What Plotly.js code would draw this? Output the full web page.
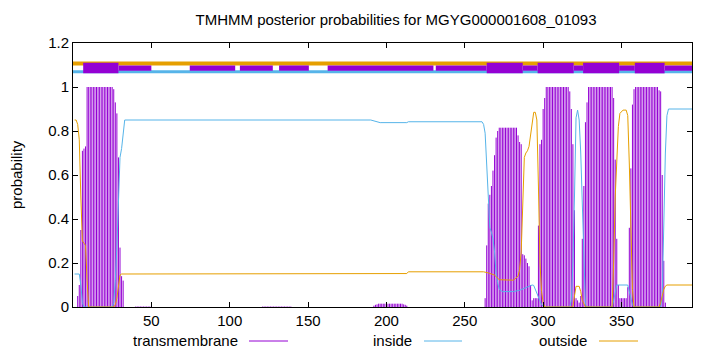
<!DOCTYPE html>
<html>
<head>
<meta charset="utf-8">
<script src="https://cdn.plot.ly/plotly-3.0.1.min.js"></script>
<style>html,body{margin:0;padding:0;background:#fff}#chart{width:720px;height:352px}</style>
</head>
<body>
<div id="chart"></div>
<script>
// ---- data ----
const chartTitle = 'TMHMM posterior probabilities for MGYG000001608_01093';
const seriesNames = ['transmembrane', 'inside', 'outside'];
const xTickVals = [50, 100, 150, 200, 250, 300, 350];
const yTickVals = [0, 0.2, 0.4, 0.6, 0.8, 1, 1.2];
const yTickText = ['0', '0.2', '0.4', '0.6', '0.8', '1', '1.2'];

// transmembrane probability per residue (residue 1..395)
const tmProb = [
  0, 0, 0.05, 0.1, 0.35, 0.71, 0.72, 0.73, 1, 1,
  1, 1, 1, 1, 1, 1, 1, 1, 1, 1,
  1, 1, 1, 1, 1, 0.99, 0.93, 0.88, 0.68, 0.27,
  0.14, 0.12, 0, 0, 0, 0, 0, 0, 0, 0.002,
  0.002, 0.002, 0.002, 0.002, 0.002, 0.002, 0.002, 0.002, 0.002, 0.002,
  0, 0, 0, 0, 0, 0, 0, 0, 0, 0,
  0, 0, 0, 0, 0, 0, 0, 0, 0, 0,
  0, 0, 0, 0, 0, 0, 0, 0, 0, 0,
  0, 0, 0, 0, 0, 0, 0, 0, 0, 0,
  0, 0, 0, 0, 0, 0, 0, 0, 0, 0,
  0, 0, 0, 0, 0, 0, 0, 0, 0, 0,
  0, 0, 0, 0, 0, 0, 0, 0, 0, 0,
  0.002, 0.002, 0.002, 0.002, 0.002, 0.002, 0.002, 0.002, 0.002, 0.002,
  0.002, 0.002, 0.002, 0.002, 0.002, 0.002, 0.002, 0.002, 0.002, 0,
  0, 0, 0, 0, 0, 0, 0, 0, 0, 0,
  0, 0, 0, 0, 0, 0, 0, 0, 0, 0,
  0, 0, 0, 0, 0, 0, 0, 0, 0, 0,
  0, 0, 0, 0, 0, 0, 0, 0, 0, 0,
  0, 0, 0, 0, 0, 0, 0, 0, 0, 0,
  0, 0.006, 0.01, 0.012, 0.015, 0.015, 0.015, 0.015, 0.015, 0.015,
  0.015, 0.015, 0.015, 0.015, 0.015, 0.015, 0.015, 0.015, 0.015, 0.015,
  0.012, 0.01, 0.006, 0, 0, 0, 0, 0, 0, 0,
  0, 0, 0, 0, 0, 0, 0, 0, 0, 0,
  0, 0, 0, 0, 0, 0, 0, 0, 0, 0,
  0, 0, 0, 0, 0, 0, 0, 0, 0, 0,
  0, 0, 0, 0, 0, 0, 0, 0, 0, 0,
  0, 0, 0.04, 0.28, 0.47, 0.51, 0.55, 0.62, 0.69, 0.77,
  0.8, 0.815, 0.815, 0.815, 0.815, 0.815, 0.815, 0.815, 0.815, 0.815,
  0.815, 0.815, 0.815, 0.78, 0.75, 0.74, 0.24, 0.235, 0.22, 0.2,
  0.185, 0.1, 0.03, 0.04, 0.04, 0.04, 0.37, 0.74, 0.76, 0.9,
  0.95, 1, 1, 1, 1, 1, 1, 1, 1, 1,
  1, 1, 1, 1, 1, 1, 0.98, 0.9, 0.74, 0.44,
  0.04, 0.03, 0.02, 0.05, 0.31, 0.55, 0.84, 0.93, 1, 1,
  1, 1, 1, 1, 1, 1, 1, 1, 1, 1,
  1, 1, 1, 1, 0.95, 0.67, 0.31, 0.1, 0.04, 0.04,
  0.04, 0.04, 0.04, 0.09, 0.36, 0.63, 0.92, 0.99, 1, 1,
  1, 1, 1, 1, 1, 1, 1, 1, 1, 1,
  1, 1, 1, 0.985, 0.98, 0.6, 0.21, 0.02, 0, 0,
  0, 0, 0, 0, 0, 0, 0, 0, 0, 0,
  0, 0, 0, 0, 0
];

// inside probability (residue, value) where the curve changes
const inPos  = [1, 4, 5, 6, 7, 25, 26, 27, 28, 29, 30, 31, 32, 33, 190, 192, 196, 213, 214, 261,
  262, 263, 264, 265, 266, 267, 268, 269, 270, 271, 272, 274, 281, 285, 290, 293, 294, 295, 297, 299,
  301, 317, 318, 319, 320, 321, 322, 323, 324, 325, 326, 327, 328, 344, 345, 346, 347, 354, 355, 356,
  357, 358, 375, 376, 377, 378, 379, 380, 395];
const inProb = [0.15, 0.15, 0.1, 0.02, 0, 0, 0.02, 0.12, 0.27, 0.5, 0.68, 0.72, 0.8, 0.85, 0.85, 0.845, 0.838, 0.838, 0.842, 0.842,
  0.83, 0.79, 0.65, 0.45, 0.36, 0.34, 0.31, 0.25, 0.15, 0.11, 0.08, 0.07, 0.07, 0.076, 0.09, 0.1, 0.098, 0.08, 0.04, 0.01,
  0, 0, 0.03, 0.2, 0.5, 0.86, 0.895, 0.85, 0.7, 0.45, 0.15, 0.01, 0, 0, 0.03, 0.07, 0.1, 0.1, 0.07, 0.03,
  0.01, 0, 0, 0.05, 0.4, 0.7, 0.87, 0.9, 0.9];

// outside probability (residue, value) where the curve changes
const outPos  = [1, 2, 3, 4, 5, 6, 7, 8, 9, 10, 26, 27, 28, 29, 30, 31, 213, 214, 262, 265,
  269, 272, 281, 284, 285, 286, 287, 288, 289, 290, 291, 292, 293, 294, 295, 296, 297, 298, 299, 300,
  301, 319, 320, 321, 323, 324, 325, 327, 344, 345, 346, 347, 348, 349, 351, 353, 354, 355, 356, 357,
  358, 374, 375, 376, 377, 378, 379, 395];
const outProb = [0.85, 0.85, 0.83, 0.76, 0.5, 0.3, 0.29, 0.28, 0.12, 0, 0, 0.01, 0.04, 0.1, 0.145, 0.15, 0.152, 0.16, 0.16, 0.155,
  0.145, 0.124, 0.122, 0.14, 0.17, 0.25, 0.5, 0.68, 0.7, 0.71, 0.73, 0.78, 0.85, 0.885, 0.885, 0.85, 0.55, 0.2, 0.07, 0.02,
  0, 0, 0.05, 0.094, 0.094, 0.07, 0.03, 0, 0, 0.2, 0.5, 0.7, 0.82, 0.88, 0.895, 0.895, 0.87, 0.65, 0.3, 0.08,
  0, 0, 0.02, 0.05, 0.08, 0.095, 0.1, 0.1];

// predicted topology band at the top (residue ranges)
const topOutsideSegs = [[0, 411]];
const topInsideSegs  = [[0, 411]];
const topHelixSegs   = [[6.5, 29], [264, 287], [296.5, 319.5], [325.5, 348.5], [358.5, 377.5]];
const topThinSegs    = [[29, 50], [74.5, 103.5], [106.5, 127.5], [131.5, 150.5], [162.5, 230], [231.5, 264],
  [287, 296.5], [319.5, 325.5], [348.5, 358.5], [377.5, 411]];

// ---- styling ----
const C_TM = '#9400d3', C_IN = '#56b4e9', C_OUT = '#e69f00';
const FONT = 'Liberation Sans, Arial, sans-serif';

// impulses for transmembrane
const impX = [], impY = [];
tmProb.forEach((v, i) => { if (v > 0) { impX.push(i + 1, i + 1, null); impY.push(0, v, null); } });

function band(segs, y0, y1, color) {
  return {
    type: 'bar', x: segs.map(s => (s[0] + s[1]) / 2), width: segs.map(s => s[1] - s[0]),
    base: segs.map(() => y0), y: segs.map(() => y1 - y0),
    marker: {color: color, line: {width: 0}}, cliponaxis: false, showlegend: false, hoverinfo: 'skip'
  };
}

const traces = [
  band(topOutsideSegs, 1.098, 1.116, C_OUT),
  band(topInsideSegs, 1.062, 1.076, C_IN),
  band(topThinSegs, 1.074, 1.098, C_TM),
  band(topHelixSegs, 1.062, 1.11, C_TM),
  {type: 'scatter', mode: 'lines', x: impX, y: impY, name: seriesNames[0],
   line: {color: C_TM, width: 1}, showlegend: false, hoverinfo: 'skip'},
  {type: 'scatter', mode: 'lines', x: inPos, y: inProb, name: seriesNames[1],
   line: {color: C_IN, width: 1}, showlegend: false, hoverinfo: 'skip'},
  {type: 'scatter', mode: 'lines', x: outPos, y: outProb, name: seriesNames[2],
   line: {color: C_OUT, width: 1}, showlegend: false, hoverinfo: 'skip'}
];

const L = 73, R = 28, T = 43, B = 45, W = 720, H = 352;
const pw = W - L - R, ph = H - T - B;
const px2x = p => (p - L) / pw;
const py2y = p => (H - B - p) / ph;

const legendTextRight = [240, 414, 589];
const legendLine = [[249, 288], [424, 462], [599, 638]];
const legendColors = [C_TM, C_IN, C_OUT];
const legendY = 340;

const annotations = seriesNames.map((n, i) => ({
  text: n, xref: 'paper', yref: 'paper', x: px2x(legendTextRight[i]), y: py2y(legendY),
  xanchor: 'right', yanchor: 'middle', showarrow: false, font: {family: FONT, size: 15, color: '#000'}
}));
annotations.push({
  text: 'probability', xref: 'paper', yref: 'paper', x: px2x(16), y: py2y(175), textangle: -90,
  xanchor: 'center', yanchor: 'middle', showarrow: false, font: {family: FONT, size: 15, color: '#000'}
});
const shapes = legendLine.map((s, i) => ({
  type: 'line', xref: 'paper', yref: 'paper', x0: px2x(s[0]), x1: px2x(s[1]),
  y0: py2y(legendY + 1), y1: py2y(legendY + 1), line: {color: legendColors[i], width: 1}
}));

const layout = {
  width: W, height: H, margin: {l: L, r: R, t: T, b: B}, autosize: false,
  paper_bgcolor: '#fff', plot_bgcolor: '#fff', showlegend: false, barmode: 'overlay',
  font: {family: FONT, size: 15, color: '#000'},
  title: {text: chartTitle, x: 396 / W, xref: 'container', xanchor: 'center',
          y: 1 - 20 / H, yref: 'container', yanchor: 'middle', font: {family: FONT, size: 15, color: '#000'}},
  xaxis: {range: [0, 395], tickvals: xTickVals, ticks: 'inside', ticklen: 5, tickcolor: '#000',
          showline: true, linecolor: '#000', linewidth: 1, mirror: 'ticks', showgrid: false, zeroline: false,
          tickfont: {family: FONT, size: 15, color: '#000'}, fixedrange: true},
  yaxis: {range: [0, 1.2], tickvals: yTickVals, ticktext: yTickText, ticks: 'inside', ticklen: 5, tickcolor: '#000',
          showline: true, linecolor: '#000', linewidth: 1, mirror: 'ticks', showgrid: false, zeroline: false,
          tickfont: {family: FONT, size: 15, color: '#000'}, fixedrange: true},
  annotations: annotations, shapes: shapes
};

Plotly.newPlot('chart', traces, layout, {staticPlot: true, displayModeBar: false});
</script>
</body>
</html>
